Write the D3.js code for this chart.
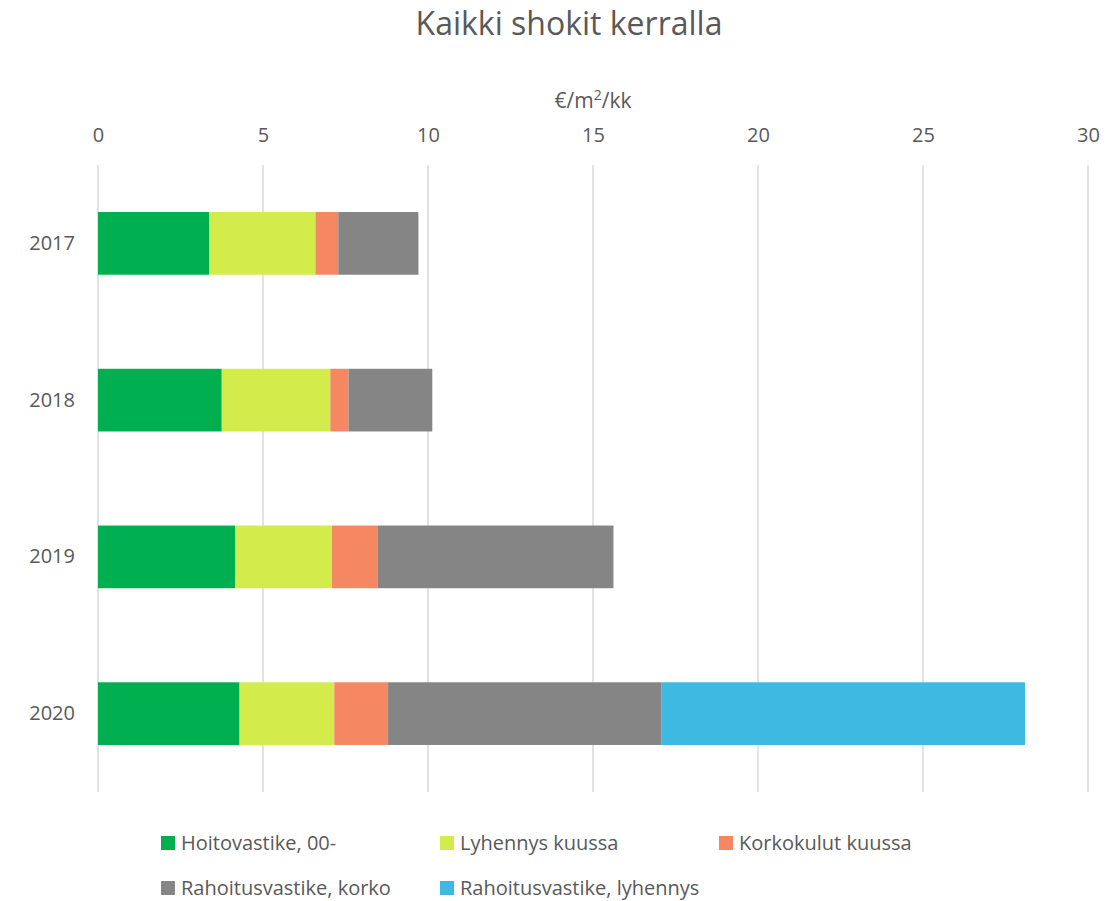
<!DOCTYPE html>
<html>
<head>
<meta charset="utf-8">
<script src="https://cdn.jsdelivr.net/npm/d3@7"></script>
<style>
  body { margin: 0; background: #fff; }
  text { font-family: "Open Sans", "Noto Sans", sans-serif; fill: #595959; }
</style>
</head>
<body>
<div class="chart"></div>
<script>
const years = ["2017", "2018", "2019", "2020"];
const seriesNames = ["Hoitovastike, 00-", "Lyhennys kuussa", "Korkokulut kuussa", "Rahoitusvastike, korko", "Rahoitusvastike, lyhennys"];
const colors = ["#00B050", "#D3EC4C", "#F58762", "#858585", "#3DB9E2"];

// values per series, one entry per year
const hoitovastike = [3.37, 3.75, 4.16, 4.29];
const lyhennys = [3.22, 3.29, 2.93, 2.87];
const korkokulut = [0.69, 0.55, 1.39, 1.63];
const rahKorko = [2.43, 2.54, 7.14, 8.29];
const rahLyhennys = [0, 0, 0, 11.01];

const xTicks = [0, 5, 10, 15, 20, 25, 30];

const svgWidth = 1120;
const svgHeight = 901;
const margin = {left: 98, right: 32, top: 165, bottom: 109};

const table = years.map((y, i) => ({
    year: y,
    s0: hoitovastike[i],
    s1: lyhennys[i],
    s2: korkokulut[i],
    s3: rahKorko[i],
    s4: rahLyhennys[i]
}));
const stack = d3.stack().keys(["s0", "s1", "s2", "s3", "s4"])(table);

let svg = d3.select(".chart")
    .append("svg")
    .attr("width", svgWidth)
    .attr("height", svgHeight)

let xScale = d3.scaleLinear()
    .domain([0, 30])
    .range([margin.left, svgWidth - margin.right])

let yScale = d3.scaleBand()
    .domain(years)
    .range([margin.top, svgHeight - margin.bottom])
    .paddingInner(0.6)
    .paddingOuter(0.3)

// gridlines
svg.append("g")
    .selectAll("line")
    .data(xTicks)
    .enter()
    .append("line")
    .attr("x1", d => xScale(d))
    .attr("x2", d => xScale(d))
    .attr("y1", margin.top)
    .attr("y2", svgHeight - margin.bottom)
    .attr("stroke", "#d9d9d9")
    .attr("stroke-width", 1.5)

// x axis on top
let xAxis = d3.axisTop(xScale)
    .tickValues(xTicks)
    .tickSize(0)
    .tickPadding(0)

let xAxisGroup = svg.append("g")
    .attr("transform", `translate(0, 142)`)
    .call(xAxis)
xAxisGroup.select(".domain").remove()
xAxisGroup.selectAll("text")
    .style("font-size", "20px")
    .style("fill", "#595959")

// y axis
let yAxis = d3.axisLeft(yScale)
    .tickSize(0)
    .tickPadding(23)

let yAxisGroup = svg.append("g")
    .attr("transform", `translate(${margin.left}, 0)`)
    .call(yAxis)
yAxisGroup.select(".domain").remove()
yAxisGroup.selectAll("text")
    .style("font-size", "20px")
    .style("fill", "#595959")

// bars
svg.append("g")
    .selectAll("g")
    .data(stack)
    .enter()
    .append("g")
    .attr("fill", (d, i) => colors[i])
    .selectAll("rect")
    .data(d => d)
    .enter()
    .append("rect")
    .attr("x", d => xScale(d[0]))
    .attr("y", d => yScale(d.data.year))
    .attr("width", d => xScale(d[1]) - xScale(d[0]))
    .attr("height", yScale.bandwidth())

// title
svg.append("text")
    .attr("x", 569)
    .attr("y", 35)
    .attr("text-anchor", "middle")
    .style("font-size", "32px")
    .text("Kaikki shokit kerralla")

// axis title
let axisTitle = svg.append("text")
    .attr("x", (xScale(0) + xScale(30)) / 2)
    .attr("y", 108)
    .attr("text-anchor", "middle")
    .style("font-size", "21px")
axisTitle.append("tspan").text("€/m")
axisTitle.append("tspan").attr("dy", -8).style("font-size", "14px").text("2")
axisTitle.append("tspan").attr("dy", 8).text("/kk")

// legend
const legendPos = [
    {x: 161, y: 843}, {x: 440, y: 843}, {x: 719, y: 843},
    {x: 161, y: 888}, {x: 440, y: 888}
];
let legend = svg.append("g")
    .selectAll("g")
    .data(seriesNames)
    .enter()
    .append("g")
    .attr("transform", (d, i) => `translate(${legendPos[i].x}, ${legendPos[i].y})`)

legend.append("rect")
    .attr("x", 0)
    .attr("y", -7)
    .attr("width", 14)
    .attr("height", 14)
    .attr("fill", (d, i) => colors[i])

legend.append("text")
    .attr("x", 20)
    .attr("y", 0)
    .attr("dy", "0.35em")
    .style("font-size", "20px")
    .text(d => d)
</script>
</body>
</html>
